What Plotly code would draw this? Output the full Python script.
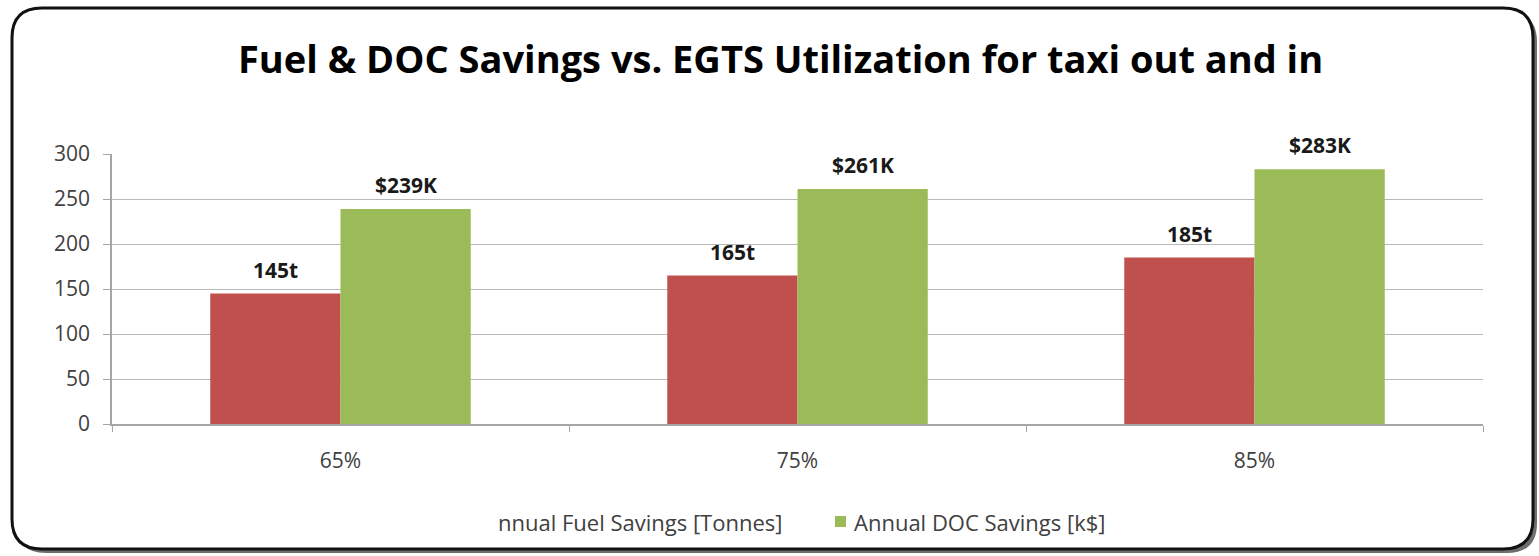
import plotly.graph_objects as go

# Chart data
utilization = ["65%", "75%", "85%"]
fuel_tonnes = [145, 165, 185]
doc_kusd = [239, 261, 283]
y_ticks = [0, 50, 100, 150, 200, 250, 300]

W, H = 1539, 556
L, R, T, B = 112, 56, 154, 132
PW, PH = W - L - R, H - T - B

RED = "#C0504D"
GREEN = "#9BBB59"
FONT = "Open Sans"


def px_x(x):
    return (x - L) / PW


def px_y(y):
    return (H - B - y) / PH


def rounded_rect(x0, y0, x1, y1, r):
    return (
        f"M {px_x(x0 + r)},{px_y(y0)} L {px_x(x1 - r)},{px_y(y0)} "
        f"Q {px_x(x1)},{px_y(y0)} {px_x(x1)},{px_y(y0 + r)} "
        f"L {px_x(x1)},{px_y(y1 - r)} Q {px_x(x1)},{px_y(y1)} {px_x(x1 - r)},{px_y(y1)} "
        f"L {px_x(x0 + r)},{px_y(y1)} Q {px_x(x0)},{px_y(y1)} {px_x(x0)},{px_y(y1 - r)} "
        f"L {px_x(x0)},{px_y(y0 + r)} Q {px_x(x0)},{px_y(y0)} {px_x(x0 + r)},{px_y(y0)} Z"
    )


fig = go.Figure()
fig.add_trace(go.Bar(x=utilization, y=fuel_tonnes, name="Annual Fuel Savings [Tonnes]",
                     marker=dict(color=RED, line=dict(width=0))))
fig.add_trace(go.Bar(x=utilization, y=doc_kusd, name="Annual DOC Savings [k$]",
                     marker=dict(color=GREEN, line=dict(width=0))))

label_font = dict(family=FONT, size=21, color="#1a1a1a", weight="bold")
annotations = []
for cat, f, d in zip(utilization, fuel_tonnes, doc_kusd):
    annotations.append(dict(x=cat, y=f, text=f"{f}t", xshift=-65, yshift=8,
                            yanchor="bottom", showarrow=False, font=label_font))
    annotations.append(dict(x=cat, y=d, text=f"${d}K", xshift=65, yshift=8,
                            yanchor="bottom", showarrow=False, font=label_font))

# Title
annotations.append(dict(xref="paper", yref="paper", x=px_x(780), y=px_y(58),
                        text="Fuel & DOC Savings vs. EGTS Utilization for taxi out and in",
                        showarrow=False, xanchor="center", yanchor="middle",
                        font=dict(family=FONT, size=38, color="#000000", weight="bold")))

# Legend entries
legend_font = dict(family=FONT, size=22, color="#404040")
annotations.append(dict(xref="paper", yref="paper", x=px_x(784), y=px_y(522),
                        text="nnual Fuel Savings [Tonnes]", showarrow=False,
                        xanchor="right", yanchor="middle", font=legend_font))
annotations.append(dict(xref="paper", yref="paper", x=px_x(852), y=px_y(522),
                        text="Annual DOC Savings [k$]", showarrow=False,
                        xanchor="left", yanchor="middle", font=legend_font))

shapes = [
    # drop shadow of the frame
    dict(type="path", xref="paper", yref="paper", layer="below",
         path=rounded_rect(16, 12, 1537, 553, 30),
         fillcolor="#6e6e6e", line=dict(width=0)),
    # frame
    dict(type="path", xref="paper", yref="paper", layer="below",
         path=rounded_rect(12, 8, 1533, 549, 30),
         fillcolor="#ffffff", line=dict(color="#111111", width=3)),
    # green legend swatch
    dict(type="rect", xref="paper", yref="paper",
         x0=px_x(835), x1=px_x(846), y0=px_y(527), y1=px_y(516),
         fillcolor=GREEN, line=dict(width=0)),
]

fig.update_layout(
    width=W, height=H,
    margin=dict(l=L, r=R, t=T, b=B),
    paper_bgcolor="#ffffff",
    plot_bgcolor="rgba(0,0,0,0)",
    barmode="group",
    bargap=0.43,
    bargroupgap=0,
    showlegend=False,
    annotations=annotations,
    shapes=shapes,
    font=dict(family=FONT),
)
fig.update_xaxes(
    type="category", tickson="boundaries", ticks="outside", ticklen=6,
    tickcolor="#a6a6a6", showline=True, linecolor="#a6a6a6", linewidth=1.5,
    showgrid=False, tickfont=dict(family=FONT, size=21, color="#404040"),
    ticklabelstandoff=17,
)
fig.update_yaxes(
    range=[0, 300], tickvals=y_ticks, ticks="outside", ticklen=7,
    tickcolor="#a6a6a6", showline=True, linecolor="#a6a6a6", linewidth=1.5,
    showgrid=True, gridcolor="#b8b8b8", gridwidth=1.2, zeroline=False,
    tickfont=dict(family=FONT, size=21, color="#404040"), ticklabelstandoff=9,
)

fig.write_html("out.html")
